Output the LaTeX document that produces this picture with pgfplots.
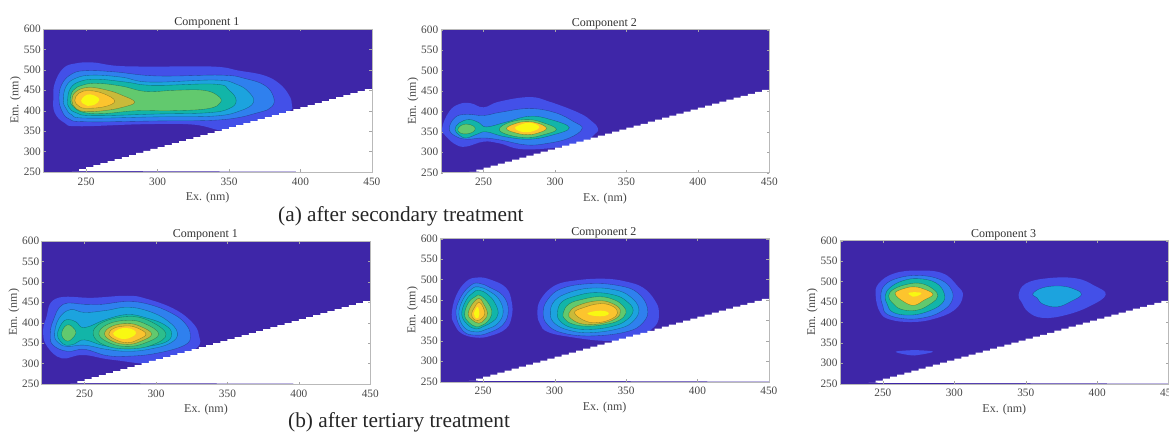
\documentclass[border=0pt]{standalone}
\usepackage{pgfplots}
\usepackage{pgfplotstable}
\usepackage{fontspec}
\setmainfont{Liberation Serif}
\pgfplotsset{compat=1.18}
\definecolor{bgc}{RGB}{62,38,168}
\definecolor{c1}{RGB}{67,80,232}
\definecolor{c2}{RGB}{47,128,238}
\definecolor{c3}{RGB}{28,163,222}
\definecolor{c4}{RGB}{18,181,168}
\definecolor{c45}{RGB}{45,190,140}
\definecolor{c5}{RGB}{98,201,110}
\definecolor{c6}{RGB}{201,186,58}
\definecolor{c7}{RGB}{252,196,46}
\definecolor{c8}{RGB}{248,248,18}
\definecolor{tickc}{RGB}{70,70,70}
\pgfplotstableread{
x y
240 252.4
245 257.3
250 262.2
255 267.1
260 272
265 276.9
270 281.8
275 286.7
280 291.6
285 296.5
290 301.4
295 306.3
300 311.1
305 316
310 320.9
315 325.8
320 330.7
325 335.6
330 340.5
335 345.4
340 350.3
345 355.2
350 360.1
355 365
360 369.8
365 374.7
370 379.6
375 384.5
380 389.4
385 394.3
390 399.2
395 404.1
400 409
405 413.9
410 418.8
415 423.7
420 428.6
425 433.5
430 438.3
435 443.2
440 448.1
445 453
450 453
450 250
}\stairs
\pgfplotsset{
  panel/.style={
    scale only axis, width=328.6pt, height=143pt,
    xmin=220, xmax=450, ymin=250, ymax=600,
    xtick={250,300,350,400,450},
    ytick={250,300,350,400,450,500,550,600},
    tick align=inside, major tick length=2.5pt,
    tick style={draw=gray!70},
    axis line style={draw=gray!55},
    axis on top,
    /pgf/number format/assume math mode=true,
    tick label style={font=\fontsize{11.3}{12}\selectfont, text=tickc},
    xticklabel style={yshift=-2pt},
    yticklabel style={xshift=1pt},
    label style={font=\fontsize{12}{13}\selectfont, text=tickc},
    title style={font=\fontsize{12}{13}\selectfont, text=black!80, at={(axis description cs:0.498,1)}, anchor=south, yshift=-6.5pt, inner sep=1pt},
    xlabel={Ex. (nm)},
    ylabel={Em. (nm)},
    xlabel style={yshift=-0.5pt},
    ylabel style={yshift=-4pt},
  },
  lv/.style={fill=#1, draw=black, draw opacity=0.35, line width=0.35pt, smooth cycle, tension=0.7, no markers, forget plot},
  lo/.style={fill=#1, draw=none, smooth cycle, tension=0.7, no markers, forget plot},
}
\newcommand{\bgfill}{\addplot[fill=bgc, draw=none, forget plot] coordinates {(220,250)(450,250)(450,600)(220,600)};}
\newcommand{\whitewedge}{\addplot[fill=white, draw=none, const plot, forget plot] table[x=x,y=y] {\stairs};}
\begin{document}
\begin{tikzpicture}
\path[use as bounding box] (0,0) rectangle (1169pt,431pt);

% (a) Component 1
\begin{axis}[panel, at={(43.3pt,259pt)}, anchor=south west, title={Component 1}]
\bgfill
\addplot[lo=c1] coordinates {(227,430)(228,467)(234,504)(243,516)(255,518)(271,510)(295,508)(339,508)(357,498)(374,487)(385,467)(392,438)(394,414)(392,398)(375,370)(350,350)(325,366)(290,367)(245,362)(235,370)(228,395)};
\addplot[lv=c2] coordinates {(231,430)(233,465)(240,490)(250,498)(270,495)(300,485)(345,487)(362,478)(375,462)(381,435)(380,410)(370,395)(345,378)(300,375)(250,373)(238,380)(233,400)};
\addplot[lv=c3] coordinates {(234,425)(236,460)(243,480)(255,487)(275,482)(295,470)(340,475)(355,465)(364,445)(367,420)(358,400)(340,387)(300,385)(250,382)(240,390)(236,405)};
\addplot[lv=c4] coordinates {(237,425)(239,455)(246,472)(258,477)(278,470)(297,462)(340,465)(350,450)(355,425)(350,405)(335,395)(300,392)(255,388)(243,395)(238,408)};
\addplot[lv=c5] coordinates {(239,425)(241,450)(248,463)(258,467)(275,460)(292,447)(312,450)(332,450)(342,437)(344,420)(335,405)(310,400)(285,400)(262,393)(248,396)(241,410)};
\addplot[lv=c6] coordinates {(240,425)(243,447)(252,457)(265,450)(275,438)(284,421)(275,408)(262,400)(250,398)(243,405)};
\addplot[lv=c7] coordinates {(242,425)(245,443)(252,449)(262,442)(270,424)(263,410)(250,406)(245,411)};
\addplot[lo=c8] coordinates {(246.5,425)(249,436)(253,440)(258,433)(259,425)(256,415)(251,412)(248,417)};
\whitewedge
\end{axis}

% (a) Component 2
\begin{axis}[panel, at={(440.7pt,258.3pt)}, anchor=south west, title={Component 2}]
\bgfill
\addplot[lo=c1] coordinates {(221,359)(226,400)(233,418)(241,420)(250,410)(261,424)(282,435)(296,424)(317,396)(326,375)(330,359)(328,345)(316,320)(280,307)(261,322)(250,326)(238,314)(231,318)(224,338)};
\addplot[lv=c2] coordinates {(226,358)(230,385)(238,393)(250,390)(262,398)(282,407)(300,397)(313,375)(319,358)(310,335)(295,322)(280,318)(262,330)(250,335)(238,332)(230,340)};
\addplot[lv=c4] coordinates {(230,356)(233,372)(240,380)(247,372)(252,362)(265,373)(282,388)(297,380)(310,360)(298,342)(282,332)(265,338)(252,350)(246,345)(238,335)(233,342)};
\addplot[lv=c5] coordinates {(232,356)(234,365)(238,369)(243,364)(244,355)(241,347)(236,345)(233,349)};
\addplot[lv=c5] coordinates {(261,356)(268,373)(281,380)(292,372)(301,356)(292,343)(281,336)(268,342)};
\addplot[lv=c7] coordinates {(266,358)(273,371)(281,375)(289,370)(294,358)(288,347)(281,343)(273,347)};
\addplot[lo=c8] coordinates {(272,360)(277,369)(282,372)(287,368)(289,360)(285,352)(280,349)(275,352)};
\whitewedge
\end{axis}

% (b) Component 1
\begin{axis}[panel, at={(41.7pt,47pt)}, anchor=south west, title={Component 1}]
\bgfill
\addplot[lo=c1] coordinates {(221,374)(223,410)(230,459)(256,461)(280,466)(293,459)(312,435)(325,402)(330,370)(328,337)(305,300)(270,309)(249,321)(234,313)(224,341)};
\addplot[lv=c2] coordinates {(226,370)(228,405)(235,445)(250,445)(262,445)(280,452)(295,445)(310,425)(320,400)(324,370)(320,345)(300,325)(280,318)(265,320)(250,335)(238,330)(228,345)};
\addplot[lv=c3] coordinates {(229,370)(232,410)(240,432)(250,425)(265,430)(280,438)(295,428)(308,405)(315,375)(310,350)(295,335)(280,330)(265,335)(250,345)(238,342)(232,350)};
\addplot[lv=c4] coordinates {(231,372)(234,398)(238,408)(244,402)(250,388)(265,408)(280,420)(293,412)(306,395)(311,372)(305,350)(285,340)(265,343)(250,358)(243,348)(237,345)(233,355)};
\addplot[lv=c45] coordinates {(256,372)(262,400)(280,415)(295,405)(307,372)(297,345)(280,336)(264,345)};
\addplot[lv=c5] coordinates {(260,372)(266,396)(280,406)(292,398)(302,372)(292,350)(280,342)(268,350)};
\addplot[lv=c6] coordinates {(264,372)(269,391)(280,398)(289,391)(297,372)(289,354)(280,347)(270,354)};
\addplot[lv=c7] coordinates {(267,372)(271,387)(280,392)(287,387)(293,372)(287,358)(280,351)(272,358)};
\addplot[lo=c8] coordinates {(270,374)(274,384)(279,387)(284,383)(286,374)(283,365)(278,360)(273,364)};
\addplot[lv=c5] coordinates {(234,375)(236,390)(239,395)(242,388)(244,375)(241,360)(238,355)(235,362)};
\whitewedge
\end{axis}

% (b) Component 2
\begin{axis}[panel, at={(440.3pt,49.3pt)}, anchor=south west, title={Component 2}]
\bgfill
\addplot[lo=c1] coordinates {(228,415)(231,460)(238,495)(246,505)(255,500)(266,480)(270,445)(270,410)(266,380)(255,362)(245,358)(235,368)(230,390)};
\addplot[lv=c2] coordinates {(231,415)(234,455)(241,485)(247,491)(255,480)(264,460)(267.6,425)(264,390)(254,370)(245,364)(236,374)};
\addplot[lv=c3] coordinates {(233,415)(236,452)(242,477)(247,482)(254,472)(261,452)(264,420)(260,392)(252,378)(245,372)(237,382)};
\addplot[lv=c4] coordinates {(235,415)(238,449)(243,468)(247,474)(253,464)(258,444)(260.5,417)(257,398)(250,385)(245,379)(239,390)};
\addplot[lv=c5] coordinates {(237,415)(240,445)(245,459)(247,462)(251,453)(255,434)(256,415)(253,397)(249,388)(245,385)(240,395)};
\addplot[lv=c6] coordinates {(239.5,415)(242,438)(247,454)(250,442)(253,418)(251,402)(247,393)(242,402)};
\addplot[lv=c7] coordinates {(242,417)(244,432)(247,445)(250,432)(251,415)(249,405)(246,400)(243,405)};
\addplot[lo=c8] coordinates {(243.5,417)(245,429)(246.2,433)(247,426)(247.3,415)(246.7,407)(245.5,405)(244.3,408)};
\addplot[lo=c1] coordinates {(288,415)(290,450)(300,485)(315,498)(335,502)(350,495)(362,480)(370,450)(373,420)(370,385)(355,355)(335,350)(310,360)(295,372)(290,390)};
\addplot[lv=c2] coordinates {(292,418)(295,450)(305,478)(325,490)(345,485)(358,468)(365,430)(362,395)(350,372)(325,362)(305,370)(295,390)};
\addplot[lv=c3] coordinates {(297,418)(300,448)(310,468)(325,479)(342,475)(353,458)(359,428)(355,398)(345,380)(325,370)(310,376)(300,393)};
\addplot[lv=c4] coordinates {(302,418)(305,445)(315,460)(328,468)(342,462)(350,448)(355,425)(350,400)(340,385)(325,378)(312,382)(304,398)};
\addplot[lv=c5] coordinates {(306,418)(310,440)(320,452)(332,458)(342,450)(348,435)(350,418)(345,400)(335,390)(322,386)(312,392)(307,404)};
\addplot[lv=c6] coordinates {(310,418)(316,436)(330,448)(340,442)(346,425)(343,405)(332,392)(320,391)(312,403)};
\addplot[lv=c7] coordinates {(314,418)(320,431)(332,441)(341,434)(344,418)(340,404)(331,395)(322,398)};
\addplot[lo=c8] coordinates {(323,417)(329,423)(335,423)(338,417)(335,411)(328,411)};
\whitewedge
\end{axis}

% (b) Component 3
\begin{axis}[panel, at={(840pt,47.3pt)}, anchor=south west, title={Component 3}]
\bgfill
\addplot[lo=c1] coordinates {(245,465)(247,495)(258,520)(275,527)(292,520)(302,490)(306,465)(300,430)(285,408)(270,401)(255,407)(248,425)};
\addplot[lv=c2] coordinates {(248.6,465)(251,490)(260,508)(275,515)(290,505)(298,480)(298,450)(290,425)(278,411)(265,409)(253,420)(250,440)};
\addplot[lv=c4] coordinates {(251.6,465)(255,485)(264,502)(275,507)(287,497)(293,470)(291,445)(280,425)(268,418)(257,425)(253,445)};
\addplot[lv=c5] coordinates {(254,465)(258,482)(268,494)(277,495)(285,482)(288.5,465)(284,447)(274,430)(263,432)(257,447)};
\addplot[lv=c7] coordinates {(258.6,470)(264,482)(272,487)(280,480)(285,468)(279,455)(272,442)(265,450)};
\addplot[lo=c8] coordinates {(268,472)(272,474)(277,472)(275,466)(271,463)(269,467)};
\addplot[lo=c1] coordinates {(345,468)(350,495)(365,508)(385,508)(398,490)(406,468)(395,440)(378,418)(362,411)(352,425)(347,450)};
\addplot[lv=c3] coordinates {(355,470)(362,485)(375,489)(385,480)(389,468)(382,452)(372,438)(362,445)(358,460)};
\addplot[lo=c1] coordinates {(259,328)(265,331)(272,332)(280,331)(285,328)(278,322)(272,319)(265,322)};
\whitewedge
\end{axis}

\node[anchor=base west, inner sep=0pt, text=black!85, font=\fontsize{21.3}{22}\selectfont] at (278pt,431pt-222pt) {(a) after secondary treatment};
\node[anchor=base west, inner sep=0pt, text=black!85, font=\fontsize{21.3}{22}\selectfont] at (288pt,431pt-427pt) {(b) after tertiary treatment};
\end{tikzpicture}
\end{document}
